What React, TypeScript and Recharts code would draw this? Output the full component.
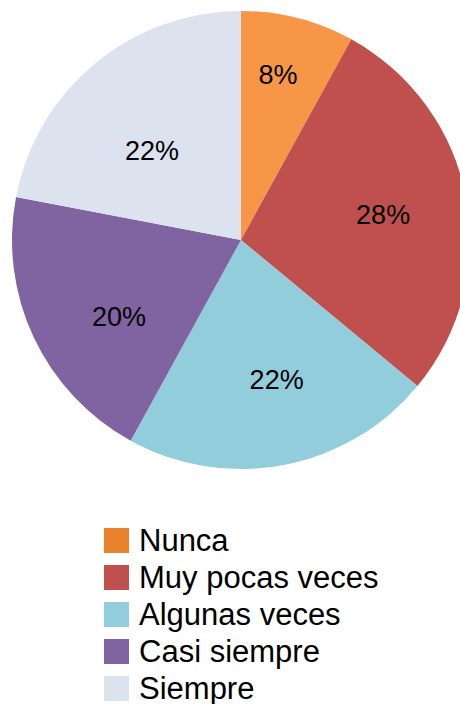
import React from 'react';
import { PieChart, Pie, Cell, Legend } from 'recharts';

const categories = ['Nunca', 'Muy pocas veces', 'Algunas veces', 'Casi siempre', 'Siempre'];
const values = [8, 28, 22, 20, 22];

const SLICE_COLORS = ['#F79646', '#C0504D', '#92CDDC', '#8064A2', '#DCE3EF'];
const LEGEND_COLORS = ['#E8822A', '#C0504D', '#92CDDC', '#8064A2', '#DCE3EF'];

// label placement tweaks (radius fraction, angle nudge in degrees)
const LABEL_R = [0.74, 0.63, 0.63, 0.63, 0.55];
const LABEL_NUDGE = [1.8, -0.9, 3.5, 7.1, 5.4];

const FONT = 'Arial, "Liberation Sans", sans-serif';
const RAD = Math.PI / 180;

const data = categories.map((name, i) => ({ name, value: values[i] }));

const renderLabel = (props: any) => {
  const { cx, cy, midAngle, outerRadius, index, value } = props;
  const r = outerRadius * LABEL_R[index];
  const a = (midAngle + LABEL_NUDGE[index]) * RAD;
  const x = cx + r * Math.cos(-a);
  const y = cy + r * Math.sin(-a);
  return (
    <text x={x} y={y} fill="#000" fontSize={27} fontFamily={FONT} textAnchor="middle" dominantBaseline="central">
      {`${value}%`}
    </text>
  );
};

const renderLegend = () => (
  <div style={{ fontFamily: FONT }}>
    {categories.map((name, i) => (
      <div key={name} style={{ display: 'flex', alignItems: 'center', height: 37 }}>
        <span style={{ width: 25, height: 25, background: LEGEND_COLORS[i], marginRight: 10, display: 'inline-block', flexShrink: 0 }} />
        <span style={{ fontSize: 31, color: '#000', lineHeight: '37px', whiteSpace: 'nowrap' }}>{name}</span>
      </div>
    ))}
  </div>
);

export default function App() {
  return (
    <div style={{ position: 'absolute', left: 0, top: 0, width: 460, height: 704, background: '#fff', overflow: 'hidden' }}>
      <PieChart width={460} height={704} margin={{ top: 0, right: 0, bottom: 0, left: 0 }}>
        <Pie
          data={data}
          dataKey="value"
          nameKey="name"
          cx={241}
          cy={240}
          outerRadius={229}
          startAngle={90}
          endAngle={-270}
          stroke="none"
          label={renderLabel}
          labelLine={false}
          isAnimationActive={false}
        >
          {data.map((entry, index) => (
            <Cell key={`cell-${index}`} fill={SLICE_COLORS[index]} />
          ))}
        </Pie>
        <Legend
          content={renderLegend}
          wrapperStyle={{ position: 'absolute', left: 104, top: 522, width: 350, bottom: 'auto' }}
        />
      </PieChart>
    </div>
  );
}
